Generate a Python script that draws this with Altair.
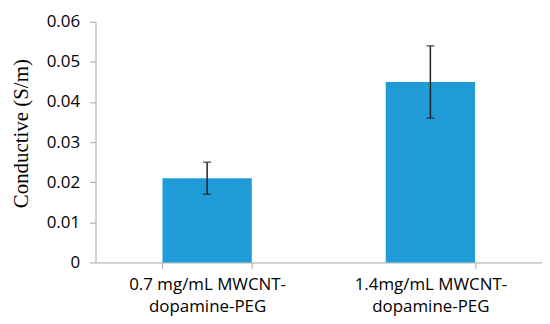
import altair as alt
import pandas as pd

categories = ["0.7 mg/mL MWCNT-|dopamine-PEG", "1.4mg/mL MWCNT-|dopamine-PEG"]
values = [0.021, 0.045]
err_low = [0.017, 0.036]
err_high = [0.025, 0.054]

df = pd.DataFrame({"cat": categories, "val": values, "lo": err_low, "hi": err_high})

AXIS_GRAY = "#A6A6A6"
FONT = "Open Sans"

x_enc = alt.X(
    "cat:N",
    sort=categories,
    title=None,
    scale=alt.Scale(paddingInner=0.6, paddingOuter=0.3),
    axis=alt.Axis(
        labelExpr="split(datum.label, '|')",
        labelAngle=0,
        labelFont=FONT,
        labelFontSize=17,
        labelColor="#000000",
        labelLineHeight=22,
        labelPadding=8,
        tickBand="extent",
        tickSize=6,
        tickColor=AXIS_GRAY,
        domainColor=AXIS_GRAY,
        labelBaseline="top",
    ),
)

bars = alt.Chart(df).mark_bar(color="#1F9BD7").encode(
    x=x_enc,
    y=alt.Y(
        "val:Q",
        scale=alt.Scale(domain=[0, 0.06]),
        axis=alt.Axis(
            values=[0, 0.01, 0.02, 0.03, 0.04, 0.05, 0.06],
            labelExpr="datum.value == 0 ? '0' : format(datum.value, '.2f')",
            grid=False,
            tickSize=6,
            tickColor=AXIS_GRAY,
            domainColor=AXIS_GRAY,
            labelFont=FONT,
            labelFontSize=17,
            labelColor="#000000",
            labelPadding=10,
            title="Conductive (S/m)",
            titleFont="Liberation Serif",
            titleFontSize=21,
            titleFontWeight="normal",
            titleColor="#000000",
            titleX=-74,
            titleY=112,
            titleBaseline="middle",
        ),
    ),
)

rules = alt.Chart(df).mark_rule(color="#222222", strokeWidth=1.5).encode(
    x=alt.X("cat:N", sort=categories),
    y="lo:Q",
    y2="hi:Q",
)

caps_lo = alt.Chart(df).mark_tick(color="#222222", thickness=1.5, size=8, orient="horizontal").encode(
    x=alt.X("cat:N", sort=categories),
    y="lo:Q",
)
caps_hi = alt.Chart(df).mark_tick(color="#222222", thickness=1.5, size=8, orient="horizontal").encode(
    x=alt.X("cat:N", sort=categories),
    y="hi:Q",
)

chart = (
    alt.layer(bars, rules, caps_lo, caps_hi)
    .properties(
        width=449,
        height=242,
        autosize=alt.AutoSizeParams(type="none"),
        padding={"left": 88, "top": 13, "right": 0, "bottom": 60},
    )
    .configure_view(stroke=None)
)

chart.save("out.html", embed_options={"renderer": "svg", "actions": False})
